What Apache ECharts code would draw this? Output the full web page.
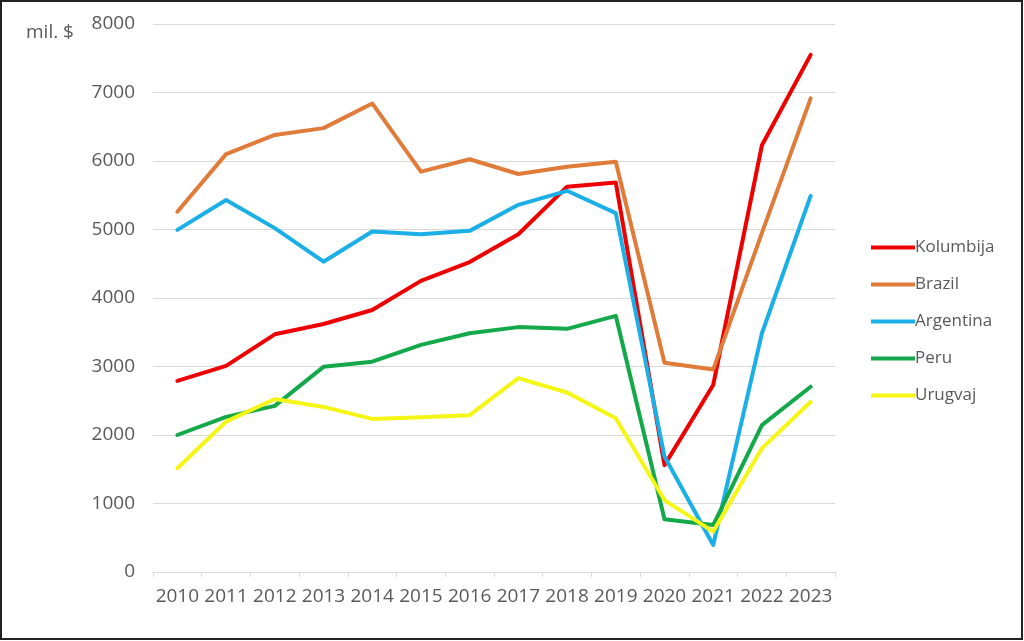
<!DOCTYPE html>
<html><head><meta charset="utf-8">
<script src="https://cdn.jsdelivr.net/npm/echarts@6/dist/echarts.min.js"></script>
<style>html,body{margin:0;padding:0;background:#fff}#c{width:1024px;height:641px}</style>
</head><body><div id="c"></div>
<script>
const years = ['2010','2011','2012','2013','2014','2015','2016','2017','2018','2019','2020','2021','2022','2023'];
const kolumbija = [2790,3010,3470,3620,3825,4250,4525,4930,5625,5685,1560,2730,6230,7550];
const brazil    = [5260,6100,6380,6480,6840,5845,6025,5810,5915,5990,3055,2955,4950,6915];
const argentina = [4995,5430,5020,4530,4970,4930,4980,5360,5565,5240,1685,395,3485,5490];
const peru      = [2000,2265,2425,2995,3070,3315,3485,3575,3550,3740,770,685,2145,2705];
const urugvaj   = [1515,2195,2525,2410,2235,2260,2290,2830,2620,2245,1050,590,1805,2485];
const yTicks = [0,1000,2000,3000,4000,5000,6000,7000,8000];
const unitLabel = 'mil. $';

const font = '"Open Sans", "Noto Sans", sans-serif';
const txt = '#595959';
const chart = echarts.init(document.getElementById('c'));
const mk = (name, data, color) => ({
  name, type: 'line', data, symbol: 'none', smooth: false,
  lineStyle: { width: 4, color, cap: 'round', join: 'round' }, itemStyle: { color }
});
chart.setOption({
  animation: false,
  backgroundColor: '#fff',
  graphic: [
    { type: 'rect', shape: { x: 1, y: 1, width: 1021, height: 638 }, style: { fill: 'none', stroke: '#222', lineWidth: 2 }, z: 100 },
    { type: 'text', left: 26, top: 23, style: { text: unitLabel, fill: txt, fontSize: 19, fontFamily: font } }
  ],
  grid: { left: 153, right: 189, top: 24, bottom: 69 },
  legend: {
    orient: 'vertical', left: 866, top: 234, itemWidth: 44, itemHeight: 4, itemGap: 20,
    icon: 'rect',
    textStyle: { color: txt, fontSize: 17, fontFamily: font, padding: [0,0,0,-5] },
    data: ['Kolumbija','Brazil','Argentina','Peru','Urugvaj']
  },
  xAxis: {
    type: 'category', data: years, boundaryGap: true,
    axisLine: { lineStyle: { color: '#d9d9d9', width: 1 } },
    axisTick: { show: true, length: 5, lineStyle: { color: '#d9d9d9' } },
    axisLabel: { color: txt, fontSize: 19, fontFamily: font, margin: 15, interval: 0 }
  },
  yAxis: {
    type: 'value', min: 0, max: 8000, interval: 1000,
    axisLine: { show: false }, axisTick: { show: false },
    splitLine: { lineStyle: { color: '#d9d9d9', width: 1 } },
    axisLabel: { color: txt, fontSize: 19, fontFamily: font, margin: 18,
      formatter: v => yTicks.includes(v) ? String(v) : '' }
  },
  series: [
    mk('Kolumbija', kolumbija, '#ee0000'),
    mk('Brazil', brazil, '#e07b39'),
    mk('Argentina', argentina, '#1aafe6'),
    mk('Peru', peru, '#13a84a'),
    mk('Urugvaj', urugvaj, '#f5f516')
  ]
});
</script></body></html>
